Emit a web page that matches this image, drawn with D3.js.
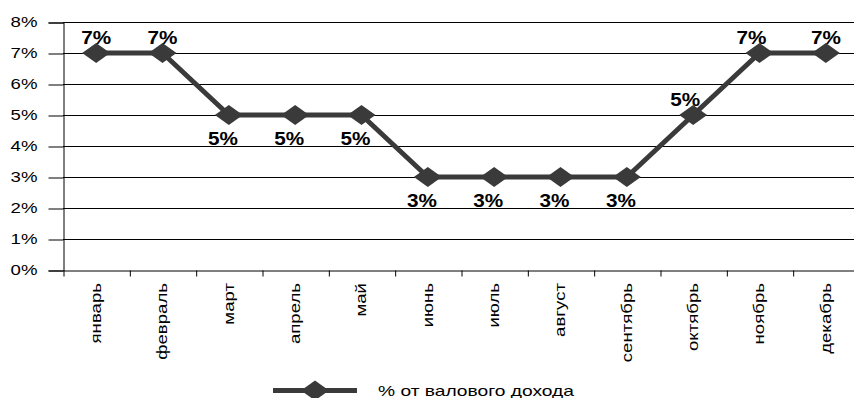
<!DOCTYPE html>
<html>
<meta charset="utf-8"/>
<head>
<script src="https://d3js.org/d3.v7.min.js"></script>
<style>
  body { margin: 0; background: #fff; }
  text { font-family: "Liberation Sans", Arial, sans-serif; fill: #000; }
</style>
</head>
<body>
<script>
  // data
  var months = ['январь','февраль','март','апрель','май','июнь','июль','август','сентябрь','октябрь','ноябрь','декабрь'];
  var values = [7, 7, 5, 5, 5, 3, 3, 3, 3, 5, 7, 7];
  var yTicks = [0, 1, 2, 3, 4, 5, 6, 7, 8];
  var seriesName = '% от валового дохода';

  var W = 854, H = 398;
  var plotLeft = 63, plotRight = 859, plotTop = 22, plotBottom = 270;
  var ink = '#3a3a3a';
  var stretch = 1.33; // source font is wider than Arial

  var svg = d3.select('body').append('svg')
      .attr('width', W)
      .attr('height', H);

  var x = d3.scaleBand().domain(months).range([plotLeft, plotRight]).padding(0);
  var xEdge = d3.scaleLinear().domain([0, months.length]).range([plotLeft, plotRight]);
  var y = d3.scaleLinear().domain([0, 8]).range([plotBottom, plotTop]);

  // gridlines
  svg.append('g').selectAll('line')
    .data(yTicks.filter(function(d){ return d > 0; }))
    .enter().append('line')
      .attr('x1', plotLeft).attr('x2', W)
      .attr('y1', function(d){ return Math.round(y(d)) + 0.5; })
      .attr('y2', function(d){ return Math.round(y(d)) + 0.5; })
      .attr('stroke', '#000').attr('stroke-width', 1);

  // y axis
  var yAxis = svg.append('g')
      .attr('transform', 'translate(' + (plotLeft + 0.5) + ',0.5)')
      .call(d3.axisLeft(y).tickValues(yTicks).tickSize(15)
        .tickFormat(function(d){ return d + '%'; }));
  yAxis.select('.domain').attr('stroke', '#000');
  yAxis.selectAll('.tick line').attr('stroke', '#000');
  yAxis.selectAll('.tick text')
      .attr('x', null)
      .attr('transform', 'translate(-26,0) scale(' + stretch + ',1)')
      .attr('font-size', 14)
      .attr('font-family', '"Liberation Sans", Arial, sans-serif');

  // x axis (ticks at category edges)
  var xAxis = svg.append('g')
      .attr('transform', 'translate(0.5,' + (Math.round(y(0)) + 0.5) + ')')
      .call(d3.axisBottom(xEdge).tickValues(d3.range(0, months.length + 1))
        .tickSize(6).tickSizeOuter(0).tickFormat(''));
  xAxis.select('.domain').attr('stroke', '#000');
  xAxis.selectAll('.tick line').attr('stroke', '#000');

  // month labels
  svg.append('g').selectAll('text')
    .data(months)
    .enter().append('text')
      .attr('transform', function(d){
        return 'translate(' + (x(d) + x.bandwidth() / 2) + ',283) rotate(-90) scale(' + stretch + ',1)';
      })
      .attr('text-anchor', 'end')
      .attr('dy', '0.35em')
      .attr('font-size', 14)
      .text(function(d){ return d; });

  var pts = months.map(function(m, i){ return {m: m, v: values[i], i: i}; });
  var cx = function(d){ return x(d.m) + x.bandwidth() / 2; };

  svg.append('path')
    .datum(pts)
    .attr('fill', 'none')
    .attr('stroke', ink)
    .attr('stroke-width', 5)
    .attr('stroke-linejoin', 'round')
    .attr('d', d3.line().x(cx).y(function(d){ return y(d.v); }));

  var diamond = 'M-14,0L0,-10L14,0L0,10Z';
  svg.append('g').selectAll('path')
    .data(pts)
    .enter().append('path')
      .attr('d', diamond)
      .attr('fill', ink)
      .attr('transform', function(d){ return 'translate(' + cx(d) + ',' + y(d.v) + ')'; });

  // data labels: above at the peak or on a rise, below otherwise
  var maxV = d3.max(values);
  function rising(d){ return d.i > 0 && d.v > values[d.i - 1]; }
  function above(d){ return d.v === maxV || rising(d); }

  svg.append('g').selectAll('text')
    .data(pts)
    .enter().append('text')
      .attr('transform', function(d){
        var dx = above(d) ? (rising(d) ? -8 : 0) : -6;
        var ty = above(d) ? y(d.v) - 9 : y(d.v) + 30;
        return 'translate(' + (cx(d) + dx) + ',' + ty + ') scale(1.15,1)';
      })
      .attr('text-anchor', 'middle')
      .attr('font-size', 18)
      .attr('font-weight', 'bold')
      .text(function(d){ return d.v + '%'; });

  // legend
  var lg = svg.append('g').attr('transform', 'translate(0,390.5)');
  lg.append('line').attr('x1', 273).attr('x2', 357)
    .attr('stroke', ink).attr('stroke-width', 5);
  lg.append('path').attr('d', diamond).attr('fill', ink)
    .attr('transform', 'translate(315,0)');
  lg.append('text')
    .attr('transform', 'translate(378,5.5) scale(1.28,1)')
    .attr('font-size', 15)
    .text(seriesName);
</script>
</body>
</html>
